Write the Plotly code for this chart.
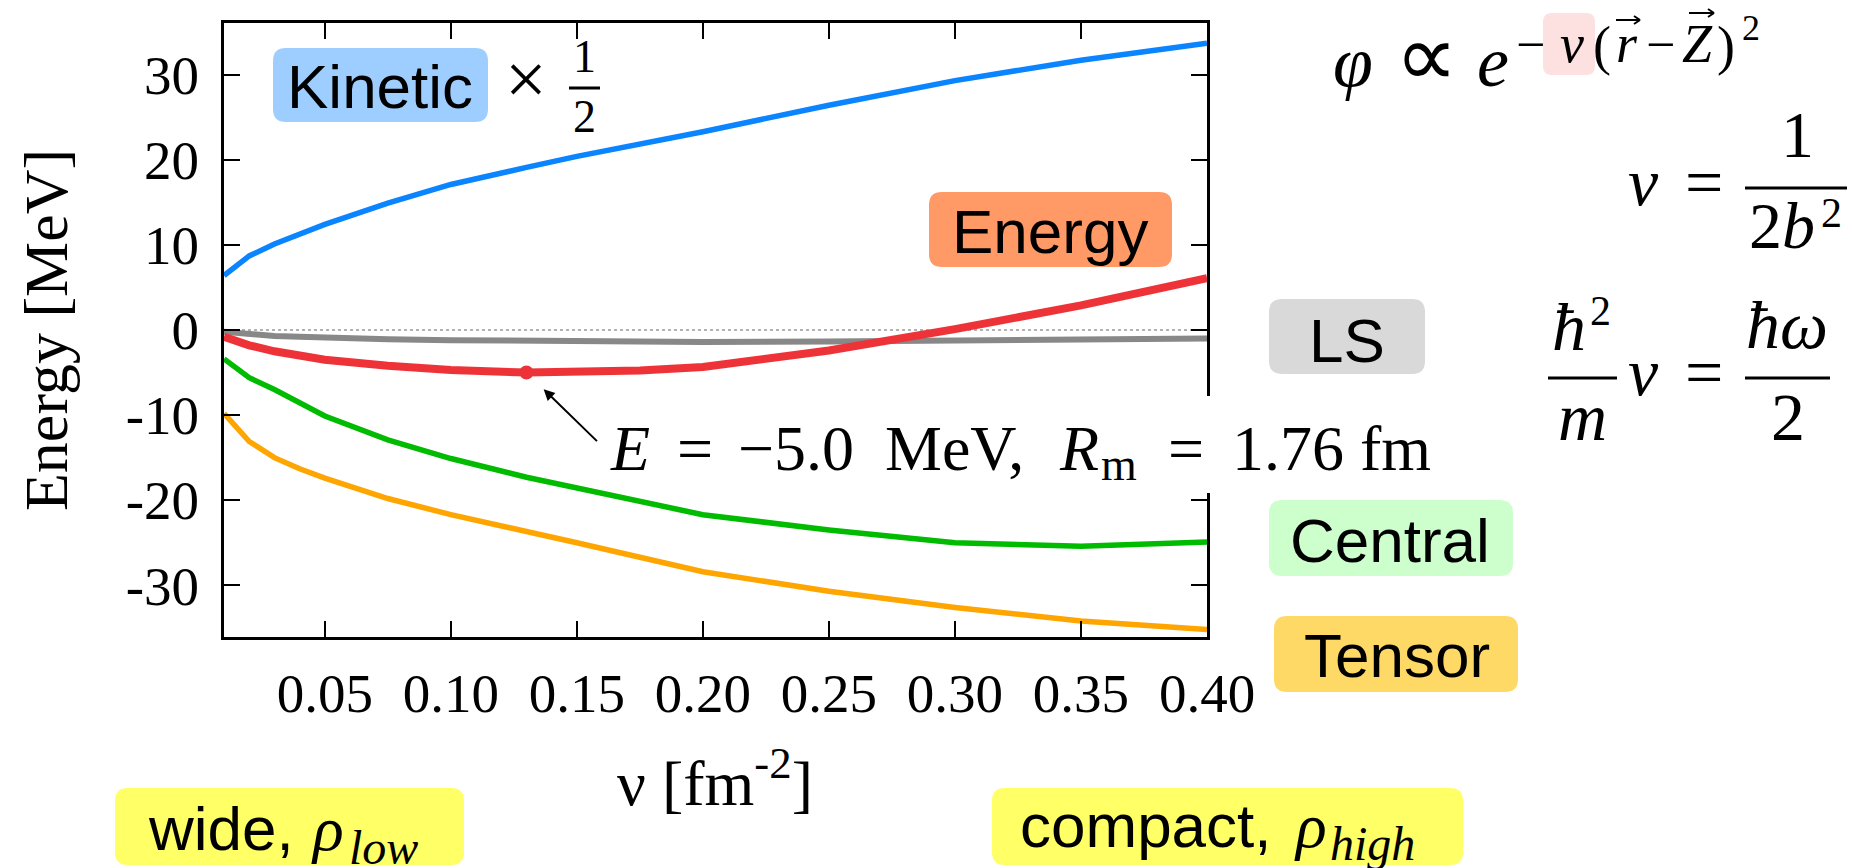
import plotly.graph_objects as go

# ---------------- data ----------------
nu = [0.01, 0.02, 0.03, 0.04, 0.05, 0.075, 0.10, 0.13, 0.15, 0.20, 0.25, 0.30, 0.35, 0.40]
kinetic_half = [6.4, 8.7, 10.1, 11.3, 12.4, 14.9, 17.1, 19.1, 20.4, 23.3, 26.4, 29.3, 31.7, 33.7]
ls = [-0.2, -0.5, -0.7, -0.8, -0.9, -1.1, -1.2, -1.3, -1.35, -1.4, -1.35, -1.25, -1.15, -1.0]
central = [-3.4, -5.6, -7.0, -8.6, -10.1, -12.9, -15.1, -17.3, -18.6, -21.7, -23.5, -25.0, -25.4, -24.9]
tensor = [-9.8, -13.1, -15.0, -16.3, -17.4, -19.8, -21.7, -23.6, -25.0, -28.4, -30.7, -32.6, -34.2, -35.2]
energy_nu = [0.01, 0.02, 0.03, 0.04, 0.05, 0.075, 0.10, 0.13, 0.15, 0.175, 0.20, 0.225, 0.25, 0.30, 0.35, 0.40]
energy = [-0.8, -1.8, -2.5, -3.0, -3.5, -4.2, -4.7, -5.0, -4.95, -4.75, -4.35, -3.45, -2.4, 0.1, 2.9, 6.1]
min_nu = [0.13]
min_e = [-5.0]

x_ticks = [0.05, 0.10, 0.15, 0.20, 0.25, 0.30, 0.35, 0.40]
x_ticktext = ["0.05", "0.10", "0.15", "0.20", "0.25", "0.30", "0.35", "0.40"]
y_ticks = [-30, -20, -10, 0, 10, 20, 30]
y_ticktext = ["-30", "-20", "-10", "0", "10", "20", "30"]

# ---------------- geometry ----------------
W, H = 1852, 868
L, R, T, B = 224, 1207, 23, 637
SERIF = "Liberation Serif"
SANS = "Liberation Sans"


def px(x):
    return (x - L) / (R - L)


def py(y):
    return (B - y) / (B - T)


def ann(text, x, base, size, family=SERIF, xanchor="center", color="black"):
    # place text by its baseline (pixel coords)
    yc = base - 0.34 * size
    return dict(text=text, x=px(x), y=py(yc), xref="paper", yref="paper",
                showarrow=False, xanchor=xanchor, yanchor="middle",
                font=dict(family=family, size=size, color=color), borderpad=0)


def rrect(x0, y0, x1, y1, r, color):
    X, Y = px, py
    path = (f"M {X(x0 + r)},{Y(y0)} L {X(x1 - r)},{Y(y0)} Q {X(x1)},{Y(y0)} {X(x1)},{Y(y0 + r)} "
            f"L {X(x1)},{Y(y1 - r)} Q {X(x1)},{Y(y1)} {X(x1 - r)},{Y(y1)} "
            f"L {X(x0 + r)},{Y(y1)} Q {X(x0)},{Y(y1)} {X(x0)},{Y(y1 - r)} "
            f"L {X(x0)},{Y(y0 + r)} Q {X(x0)},{Y(y0)} {X(x0 + r)},{Y(y0)} Z")
    return dict(type="path", path=path, xref="paper", yref="paper",
                fillcolor=color, line=dict(width=0), layer="above")


def seg(x0, y0, x1, y1, width=3):
    return dict(type="line", x0=px(x0), x1=px(x1), y0=py(y0), y1=py(y1),
                xref="paper", yref="paper", line=dict(color="black", width=width), layer="above")


def hline(x0, x1, y, width=3):
    return seg(x0, y, x1, y, width)


def vec_arrow(x0, x1, y):
    return [seg(x0, y, x1, y, 2), seg(x1 - 6, y - 4, x1, y, 2), seg(x1 - 6, y + 4, x1, y, 2)]


fig = go.Figure()

series = [
    (nu, ls, "#888888", 6),
    (nu, kinetic_half, "#0A84FF", 5.5),
    (nu, central, "#00BB00", 5.5),
    (nu, tensor, "#FFA500", 5.5),
    (energy_nu, energy, "#EE3338", 8),
]
for xs, ys, col, w in series:
    fig.add_trace(go.Scatter(x=xs, y=ys, mode="lines", line=dict(color=col, width=w),
                             showlegend=False, hoverinfo="skip"))

fig.add_trace(go.Scatter(x=min_nu, y=min_e, mode="markers",
                         marker=dict(color="#EE3338", size=14), showlegend=False))

shapes = []
# zero dotted line
shapes.append(dict(type="line", x0=0.01, x1=0.40, y0=0, y1=0, xref="x", yref="y",
                   line=dict(color="#999999", width=1.5, dash="dot"), layer="below"))
# white box behind annotation (hides part of the right frame)
shapes.append(dict(type="rect", x0=px(1120), x1=px(1440), y0=py(396), y1=py(493),
                   xref="paper", yref="paper", fillcolor="white", line=dict(width=0), layer="above"))
# labelled boxes
shapes.append(rrect(273, 48, 488, 122, 13, "#9DCEFF"))
shapes.append(rrect(929, 192, 1172, 267, 13, "#FF9966"))
shapes.append(rrect(1269, 299, 1425, 374, 13, "#D9D9D9"))
shapes.append(rrect(1269, 500, 1513, 576, 13, "#CCFFCC"))
shapes.append(rrect(1274, 616, 1518, 692, 13, "#FFD966"))
shapes.append(rrect(115, 788, 464, 865, 13, "#FFFF66"))
shapes.append(rrect(992, 788, 1463, 865, 13, "#FFFF66"))
shapes.append(rrect(1543, 13, 1595, 75, 9, "#FDE0E0"))
# fraction bars
shapes.append(hline(569, 600, 88))
shapes.append(hline(1745, 1847, 188))
shapes.append(hline(1548, 1617, 378))
shapes.append(hline(1745, 1830, 378))
# vector arrows over r and Z
shapes += vec_arrow(1616, 1640, 20)
shapes += vec_arrow(1689, 1714, 13)

anns = []
# axis titles
anns.append(dict(text="Energy [MeV]", x=px(46), y=py(330), xref="paper", yref="paper",
                 showarrow=False, textangle=-90, xanchor="center", yanchor="middle",
                 font=dict(family=SERIF, size=62, color="black")))
anns.append(ann("ν [fm<sup>-2</sup>]", 715, 800, 64))

# box labels
anns.append(ann("Kinetic", 380, 108, 62, SANS))
anns.append(ann("×", 526, 104, 74))
anns.append(ann("1", 584, 72, 46))
anns.append(ann("2", 584, 132, 46))
anns.append(ann("Energy", 1050, 253, 62, SANS))
anns.append(ann("LS", 1347, 362, 62, SANS))
anns.append(ann("Central", 1390, 562, 62, SANS))
anns.append(ann("Tensor", 1397, 677, 62, SANS))
anns.append(ann("wide,", 147, 850, 62, SANS, xanchor="left"))
anns.append(ann("<i>ρ</i>", 310, 850, 64, xanchor="left"))
anns.append(ann("<i>low</i>", 348, 864, 48, xanchor="left"))
anns.append(ann("compact,", 1019, 847, 62, SANS, xanchor="left"))
anns.append(ann("<i>ρ</i>", 1293, 847, 64, xanchor="left"))
anns.append(ann("<i>high</i>", 1329, 860, 48, xanchor="left"))

# minimum annotation
anns.append(ann("<i>E</i>", 630, 470, 64))
anns.append(ann("=", 695, 470, 64))
anns.append(ann("−5.0", 737, 470, 64, xanchor="left"))
anns.append(ann("MeV,", 884, 470, 64, xanchor="left"))
anns.append(ann("<i>R</i>", 1058, 470, 64, xanchor="left"))
anns.append(ann("m", 1100, 480, 46, xanchor="left"))
anns.append(ann("=", 1186, 470, 64))
anns.append(ann("1.76 fm", 1231, 470, 64, xanchor="left"))
anns.append(dict(x=min_nu[0], y=min_e[0], xref="x", yref="y", text="", showarrow=True,
                 ax=72, ay=70, axref="pixel", ayref="pixel", arrowhead=2, arrowsize=1.1,
                 arrowwidth=2, arrowcolor="black", standoff=24))

# formulas
anns.append(ann("<i>φ</i>", 1353, 86, 72))
anns.append(ann("∝", 1426, 86, 88))
anns.append(ann("<i>e</i>", 1493, 86, 72))
anns.append(ann("−", 1530, 62, 52))
anns.append(ann("<i>ν</i>", 1572, 62, 54))
anns.append(ann("(", 1602, 64, 54))
anns.append(ann("<i>r</i>", 1627, 62, 54))
anns.append(ann("−", 1660, 62, 52))
anns.append(ann("<i>Z</i>", 1697, 62, 54))
anns.append(ann(")", 1726, 64, 54))
anns.append(ann("2", 1751, 40, 36))

anns.append(ann("<i>ν</i>", 1643, 205, 68))
anns.append(ann("=", 1704, 205, 68))
anns.append(ann("1", 1797, 157, 66))
anns.append(ann("2<i>b</i>", 1782, 248, 66))
anns.append(ann("2", 1831, 227, 42))

anns.append(ann("<i>ħ</i>", 1569, 350, 68))
anns.append(ann("2", 1600, 325, 42))
anns.append(ann("<i>m</i>", 1582, 440, 68))
anns.append(ann("<i>ν</i>", 1643, 395, 68))
anns.append(ann("=", 1704, 395, 68))
anns.append(ann("<i>ħω</i>", 1787, 348, 68))
anns.append(ann("2", 1788, 440, 68))

fig.update_layout(
    width=W, height=H,
    margin=dict(l=L, r=W - R, t=T, b=H - B, pad=0),
    paper_bgcolor="white", plot_bgcolor="white",
    shapes=shapes, annotations=anns, showlegend=False,
    xaxis=dict(range=[0.01, 0.40], tickvals=x_ticks, ticktext=x_ticktext,
               ticks="inside", ticklen=16, tickwidth=2, tickcolor="black",
               showline=True, linewidth=3, linecolor="black", mirror="ticks",
               showgrid=False, zeroline=False, ticklabelstandoff=6,
               tickfont=dict(family=SERIF, size=55, color="black")),
    yaxis=dict(range=[-36.07, 36.07], tickvals=y_ticks, ticktext=y_ticktext,
               ticks="inside", ticklen=16, tickwidth=2, tickcolor="black",
               showline=True, linewidth=3, linecolor="black", mirror="ticks",
               showgrid=False, zeroline=False, ticklabelstandoff=11,
               tickfont=dict(family=SERIF, size=55, color="black")),
)

fig.write_html("out.html")
